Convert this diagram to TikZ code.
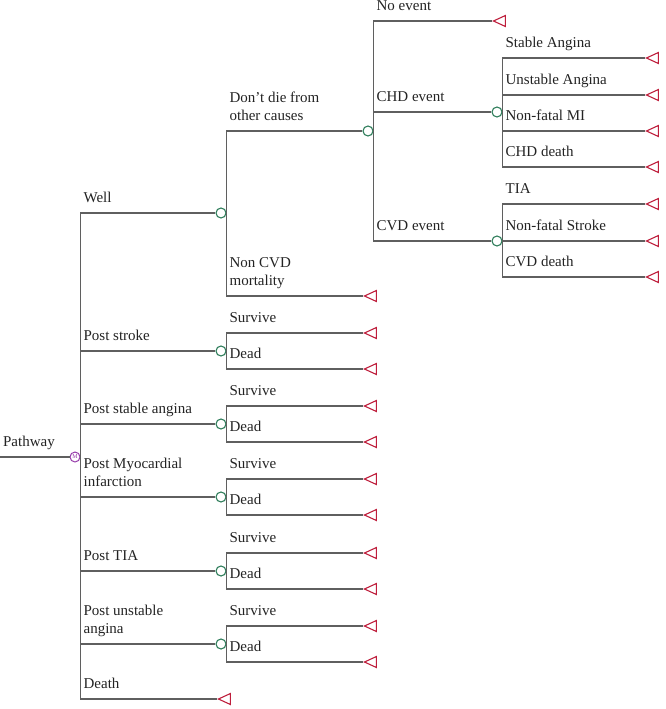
\documentclass[tikz,border=0pt]{standalone}
\usepackage{fontspec}
\setmainfont{Liberation Serif}
\usepackage{tikz}
\usetikzlibrary{shapes.geometric}
\usetikzlibrary{positioning}
\definecolor{chancegreen}{RGB}{46,125,90}
\definecolor{markovpurple}{RGB}{150,60,170}
\definecolor{endred}{RGB}{190,30,60}
\definecolor{treegray}{RGB}{95,95,95}
\definecolor{labelblack}{RGB}{35,35,35}

\begin{document}
\begin{tikzpicture}[x=1pt,y=-1pt,
    markov node/.style={circle,draw=markovpurple,line width=1pt,inner sep=0pt,minimum size=10pt,text=markovpurple,font=\fontsize{6}{6}\selectfont},
    chance node/.style={circle,draw=chancegreen,line width=1.1pt,inner sep=0pt,minimum size=10pt},
    end node/.style={isosceles triangle,shape border rotate=180,isosceles triangle stretches,draw=endred,line width=1.1pt,inner sep=0pt,minimum width=11pt,minimum height=12pt,anchor=apex},
    branch/.style={draw=treegray,line width=1.2pt,to path={|- (\tikztotarget) \tikztonodes}},
    lbl/.style={pos=0.5,anchor=south west,inner xsep=2.5pt,inner ysep=0pt,yshift=9.5pt,text depth=0pt,align=left,text=labelblack,font=\fontsize{15}{18}\selectfont}]
    \useasboundingbox (0,0) rectangle (666,709);

    \coordinate (root) at (0,457);
    \node[markov node] (markov) at (75,457) {M};

    \node[chance node] (well) at (221,213) {};
    \node[chance node] (stroke) at (221,351) {};
    \node[chance node] (sangina) at (221,424) {};
    \node[chance node] (mi) at (221,497) {};
    \node[chance node] (tia) at (221,571) {};
    \node[chance node] (uangina) at (221,644) {};
    \node[end node] (death) at (217,699) {};

    \node[chance node] (alive) at (368,131) {};
    \node[end node] (noncvd) at (363,296) {};

    \node[end node] (noevent) at (492,21) {};
    \node[chance node] (chd) at (497,112) {};
    \node[chance node] (cvd) at (497,241) {};

    \node[end node] (chdsa) at (645,58) {};
    \node[end node] (chdua) at (645,95) {};
    \node[end node] (chdmi) at (645,131) {};
    \node[end node] (chddeath) at (645,167) {};

    \node[end node] (cvdtia) at (645,204) {};
    \node[end node] (cvdstroke) at (645,241) {};
    \node[end node] (cvddeath) at (645,277) {};

    \node[end node] (strokesurv) at (363,333) {};
    \node[end node] (strokedead) at (363,369) {};
    \node[end node] (sanginasurv) at (363,406) {};
    \node[end node] (sanginadead) at (363,442) {};
    \node[end node] (misurv) at (363,479) {};
    \node[end node] (midead) at (363,515) {};
    \node[end node] (tiasurv) at (363,553) {};
    \node[end node] (tiadead) at (363,589) {};
    \node[end node] (uanginasurv) at (363,626) {};
    \node[end node] (uanginadead) at (363,662) {};

    \path (root) edge[branch] node[lbl,pos=0] {Pathway} (markov.west);

    \path (markov.east)
    edge[branch] node[lbl] {Well} (well.west)
    edge[branch] node[lbl] {Post stroke} (stroke.west)
    edge[branch] node[lbl] {Post stable angina} (sangina.west)
    edge[branch] node[lbl] {Post Myocardial\\infarction} (mi.west)
    edge[branch] node[lbl] {Post TIA} (tia.west)
    edge[branch] node[lbl] {Post unstable\\angina} (uangina.west)
    edge[branch] node[lbl] {Death} (death.apex);

    \path (well.east)
    edge[branch] node[lbl] {Don't die from\\other causes} (alive.west)
    edge[branch] node[lbl] {Non CVD\\mortality} (noncvd.apex);

    \path (alive.east)
    edge[branch] node[lbl] {No event} (noevent.apex)
    edge[branch] node[lbl] {CHD event} (chd.west)
    edge[branch] node[lbl] {CVD event} (cvd.west);

    \path (chd.east)
    edge[branch] node[lbl] {Stable Angina} (chdsa.apex)
    edge[branch] node[lbl] {Unstable Angina} (chdua.apex)
    edge[branch] node[lbl] {Non-fatal MI} (chdmi.apex)
    edge[branch] node[lbl] {CHD death} (chddeath.apex);

    \path (cvd.east)
    edge[branch] node[lbl] {TIA} (cvdtia.apex)
    edge[branch] node[lbl] {Non-fatal Stroke} (cvdstroke.apex)
    edge[branch] node[lbl] {CVD death} (cvddeath.apex);

    \path (stroke.east)
    edge[branch] node[lbl] {Survive} (strokesurv.apex)
    edge[branch] node[lbl] {Dead} (strokedead.apex);
    \path (sangina.east)
    edge[branch] node[lbl] {Survive} (sanginasurv.apex)
    edge[branch] node[lbl] {Dead} (sanginadead.apex);
    \path (mi.east)
    edge[branch] node[lbl] {Survive} (misurv.apex)
    edge[branch] node[lbl] {Dead} (midead.apex);
    \path (tia.east)
    edge[branch] node[lbl] {Survive} (tiasurv.apex)
    edge[branch] node[lbl] {Dead} (tiadead.apex);
    \path (uangina.east)
    edge[branch] node[lbl] {Survive} (uanginasurv.apex)
    edge[branch] node[lbl] {Dead} (uanginadead.apex);
\end{tikzpicture}
\end{document}
